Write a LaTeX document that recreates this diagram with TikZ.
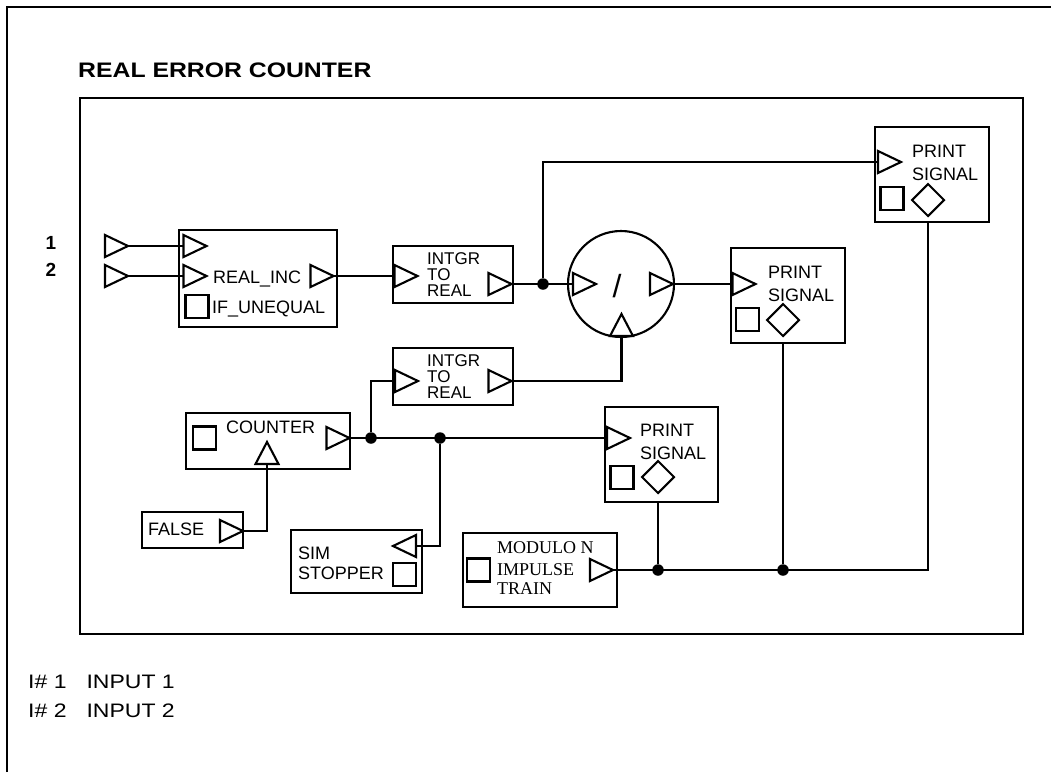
\documentclass[tikz,border=0pt]{standalone}
\usepackage{fontspec}
\newfontfamily\lab{Liberation Sans}
\newfontfamily\labw[FakeStretch=1.18]{Liberation Sans}
\newfontfamily\ser{Liberation Serif}
\usetikzlibrary{calc}
\tikzset{
  wire/.style={line width=2.1pt},
  blk/.style={draw, line width=2.1pt, rectangle, inner sep=0pt},
  port/.style={draw, line width=2.1pt, line join=miter},
  lbl/.style={inner sep=0pt, anchor=west, font=\lab\fontsize{18}{18}\selectfont, text height=12.9pt, text depth=0pt},
  ilbl/.style={inner sep=0pt, anchor=west, font=\lab\fontsize{17}{15}\selectfont, text height=12.2pt, text depth=0pt},
  slbl/.style={inner sep=0pt, anchor=west, font=\ser\fontsize{18}{18}\selectfont, text height=11.9pt, text depth=0pt},
  leg/.style={inner sep=0pt, anchor=west, font=\labw\fontsize{19.5}{19.5}\selectfont, text height=14pt, text depth=0pt},
  jdot/.style={circle, fill=black, inner sep=0pt, minimum size=11.5pt},
  rtri/.pic={\draw[port] (-11.5,-11) -- (11.5,0) -- (-11.5,11) -- cycle;
    \coordinate (-tip) at (11.5,0); \coordinate (-base) at (-11.5,0);},
  ltri/.pic={\draw[port] (11.5,-11) -- (-11.5,0) -- (11.5,11) -- cycle;
    \coordinate (-tip) at (-11.5,0); \coordinate (-base) at (11.5,0);},
  utri/.pic={\draw[port] (-11.5,11) -- (0,-11) -- (11.5,11) -- cycle;
    \coordinate (-tip) at (0,-11); \coordinate (-base) at (0,11);},
  sqr/.pic={\draw[port] (-11.5,-11.5) rectangle (11.5,11.5); \coordinate (-c) at (0,0);},
  dia/.pic={\draw[port] (0,-16) -- (16,0) -- (0,16) -- (-16,0) -- cycle; \coordinate (-c) at (0,0);},
}
\begin{document}
\begin{tikzpicture}[x=1pt,y=-1pt]
\useasboundingbox (0,0) rectangle (1051,772);
% outer frame
\coordinate (fa) at (7,772);
\coordinate (fb) at (7,7);
\coordinate (fc) at (1051,7);
\draw[wire] (fa) -- (fb) -- (fc);
% title
\node[anchor=west, inner sep=0pt, font=\labw\bfseries\fontsize{21}{21}\selectfont, text height=15pt, text depth=0pt] (title) at (78,70) {REAL ERROR COUNTER};
% inner frame
\node[blk, minimum width=943pt, minimum height=536pt] (frame) at (551.5,366) {};
% input labels
\node[inner sep=0pt, font=\lab\bfseries\fontsize{19}{19}\selectfont] (n1) at (51,243) {1};
\node[inner sep=0pt, font=\lab\bfseries\fontsize{19}{19}\selectfont] (n2) at (51,270) {2};
\pic (i1) at (116.5,246) {rtri};
\pic (i2) at (116.5,276) {rtri};
% REAL_INC
\node[blk, minimum width=158pt, minimum height=97pt] (ri) at (258,278.5) {};
\pic (ri1) at (195,246) {rtri};
\pic (ri2) at (195,276) {rtri};
\pic (rio) at (322,276) {rtri};
\pic (ris) at (197,306.5) {sqr};
\node[lbl] (rit) at (213,277) {REAL\_INC};
\node[lbl] (riu) at (212,307) {IF\_UNEQUAL};
\draw[wire] (i1-tip) -- (ri1-base);
\draw[wire] (i2-tip) -- (ri2-base);
% INTGR TO REAL 1
\node[blk, minimum width=120pt, minimum height=57pt] (ig1) at (453,274.5) {};
\pic (ig1i) at (406,276) {rtri};
\pic (ig1o) at (500,284) {rtri};
\node[ilbl] (ig1a) at (427,258) {INTGR};
\node[ilbl] (ig1b) at (427,274) {TO};
\node[ilbl] (ig1c) at (427,290) {REAL};
\draw[wire] (rio-tip) -- (ig1i-base);
% divider
\node[draw, circle, line width=2.1pt, inner sep=0pt, minimum size=106pt] (div) at (621,284) {};
\pic (dvi) at (584.5,284) {rtri};
\pic (dvo) at (661.5,284) {rtri};
\pic (dvb) at (621.5,325) {utri};
\node[inner sep=0pt, font=\lab\fontsize{32}{32}\selectfont] (sl) at (617,286) {/};
\node[jdot] (j1) at (543,284) {};
\draw[wire] (ig1o-tip) -- (dvi-base);
% PRINT SIGNAL 1
\node[blk, minimum width=114pt, minimum height=95pt] (ps1) at (932,174.5) {};
\pic (ps1i) at (889.5,162) {rtri};
\pic (ps1s) at (892,198.5) {sqr};
\pic (ps1d) at (928,200) {dia};
\node[lbl] (ps1a) at (912,151) {PRINT};
\node[lbl] (ps1b) at (912,174) {SIGNAL};
\draw[wire] (j1) -- (j1 |- ps1i-base) -- (ps1i-base);
% PRINT SIGNAL 2
\node[blk, minimum width=114pt, minimum height=95pt] (ps2) at (788,295.5) {};
\pic (ps2i) at (744,284) {rtri};
\pic (ps2s) at (747.5,319.5) {sqr};
\pic (ps2d) at (783,320) {dia};
\node[lbl] (ps2a) at (768,272) {PRINT};
\node[lbl] (ps2b) at (768,295) {SIGNAL};
\draw[wire] (dvo-tip) -- (ps2i-base);
% INTGR TO REAL 2
\node[blk, minimum width=120pt, minimum height=57pt] (ig2) at (453,376.5) {};
\pic (ig2i) at (406.5,381) {rtri};
\pic (ig2o) at (500,381) {rtri};
\node[ilbl] (ig2a) at (427,360) {INTGR};
\node[ilbl] (ig2b) at (427,376) {TO};
\node[ilbl] (ig2c) at (427,392) {REAL};
\draw[wire] (ig2o-tip) -- (dvb-base |- ig2o-tip) -- (dvb-base);
% COUNTER
\node[blk, minimum width=164pt, minimum height=56pt] (ctr) at (268,441) {};
\pic (ctrs) at (204.5,438) {sqr};
\node[lbl] (ctrt) at (226,427) {COUNTER};
\pic (ctrb) at (267,453) {utri};
\pic (ctro) at (338,438) {rtri};
% PRINT SIGNAL 3
\node[blk, minimum width=113pt, minimum height=95pt] (ps3) at (661.5,454.5) {};
\pic (ps3i) at (618.5,438) {rtri};
\pic (ps3s) at (622,477.5) {sqr};
\pic (ps3d) at (658,477) {dia};
\node[lbl] (ps3a) at (640,430) {PRINT};
\node[lbl] (ps3b) at (640,453) {SIGNAL};
\node[jdot] (j2) at (371,438) {};
\node[jdot] (j3) at (440,438) {};
\draw[wire] (ctro-tip) -- (ps3i-base);
\draw[wire] (j2) -- (j2 |- ig2i-base) -- (ig2i-base);
% FALSE
\node[blk, minimum width=101pt, minimum height=36pt] (fls) at (192.5,530) {};
\node[lbl] (flst) at (148,529) {FALSE};
\pic (flso) at (231.5,531) {rtri};
\draw[wire] (ctrb-base) -- (ctrb-base |- flso-tip) -- (flso-tip);
% SIM STOPPER
\node[blk, minimum width=131pt, minimum height=63pt] (sim) at (356.5,561.5) {};
\pic (ssti) at (404.5,546) {ltri};
\pic (ssts) at (404.5,574.5) {sqr};
\node[lbl] (sima) at (298,553) {SIM};
\node[lbl] (simb) at (298,573) {STOPPER};
\draw[wire] (j3) -- (j3 |- ssti-base) -- (ssti-base);
% MODULO N IMPULSE TRAIN
\node[blk, minimum width=154pt, minimum height=74pt] (mod) at (540,570) {};
\pic (mods) at (478.5,570) {sqr};
\node[slbl] (moda) at (497,548) {MODULO N};
\node[slbl] (modb) at (497,570) {IMPULSE};
\node[slbl] (modc) at (497,589) {TRAIN};
\pic (modo) at (601.5,570) {rtri};
\node[jdot] (j4) at (658,570) {};
\node[jdot] (j5) at (783,570) {};
\draw[wire] (modo-tip) -- (modo-tip -| ps1d-c) -- (ps1d-c |- ps1.south);
\draw[wire] (j4) -- (j4 |- ps3.south);
\draw[wire] (j5) -- (j5 |- ps2.south);
% legend
\node[leg] (lg1) at (28,681) {I\#\ 1\hspace{20pt}INPUT 1};
\node[leg] (lg2) at (28,710) {I\#\ 2\hspace{20pt}INPUT 2};
\end{tikzpicture}
\end{document}
